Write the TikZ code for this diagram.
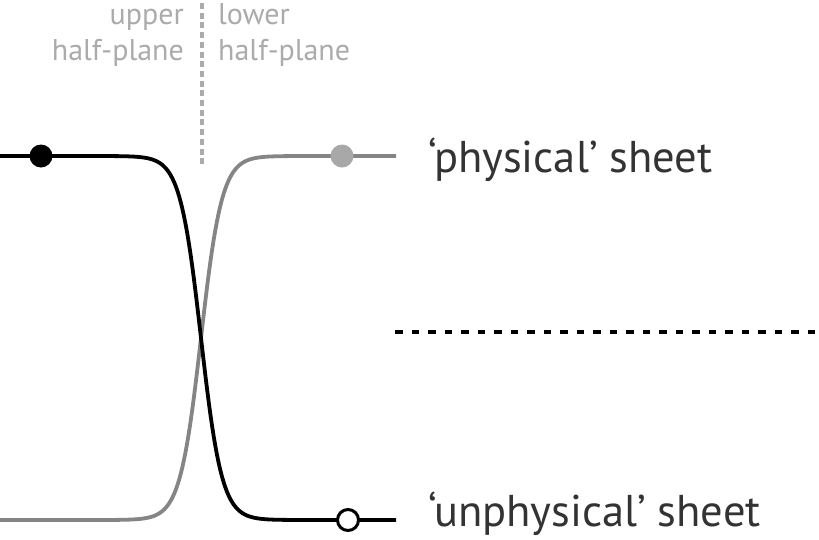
\documentclass[tikz,border=0pt]{standalone}
\usepackage{fontspec}
\setmainfont{PT Sans}
\definecolor{labgray}{HTML}{ABABAB}
\definecolor{linegray}{HTML}{858585}
\definecolor{dotgray}{HTML}{A8A8A8}
\definecolor{txt}{HTML}{333333}
\begin{document}
\begin{tikzpicture}[x=1pt,y=-1pt,
  curve/.style={line width=3.8pt},
  bigtext/.style={text=txt,font=\fontsize{44.5}{50}\selectfont,anchor=base west,inner sep=0pt},
  smalltext/.style={text=labgray,font=\fontsize{30}{34}\selectfont,inner sep=0pt},
  dot/.style={circle,minimum size=23pt,inner sep=0pt}]
\useasboundingbox (0,0) rectangle (819,539);
% vertical dashed divider
\coordinate (vtop) at (202,3);
\coordinate (vbot) at (202,165);
\draw[labgray,line width=4.2pt,dash pattern=on 6pt off 3.7pt] (vtop) -- (vbot);
% labels
\node[smalltext,anchor=base east] (up) at (184,24) {upper};
\node[smalltext,anchor=base east] (uhp) at (184,60) {half-plane};
\node[smalltext,anchor=base west] (lo) at (218,24) {lower};
\node[smalltext,anchor=base west] (lhp) at (218,60) {half-plane};
% curves
\draw[curve,linegray] plot[domain=0:396,samples=240] (\x,{338-182*tanh((\x-201)/21)});
\draw[curve,black] plot[domain=0:396,samples=240] (\x,{338+182*tanh((\x-201)/21)});
% dots
\node[dot,fill=black] (bd) at (41,156) {};
\node[dot,fill=dotgray] (gd) at (342,156) {};
\node[dot,fill=white,draw=black,line width=3pt,minimum size=21pt] (od) at (348,520) {};
% horizontal dashed line
\coordinate (hl) at (395,332);
\coordinate (hr) at (819,332);
\draw[black,line width=3.3pt,dash pattern=on 7.5pt off 9pt] (hl) -- (hr);
% sheet labels
\node[bigtext] (phys) at (428,172) {‘physical’ sheet};
\node[bigtext] (unphys) at (428,526) {‘unphysical’ sheet};
\end{tikzpicture}
\end{document}
